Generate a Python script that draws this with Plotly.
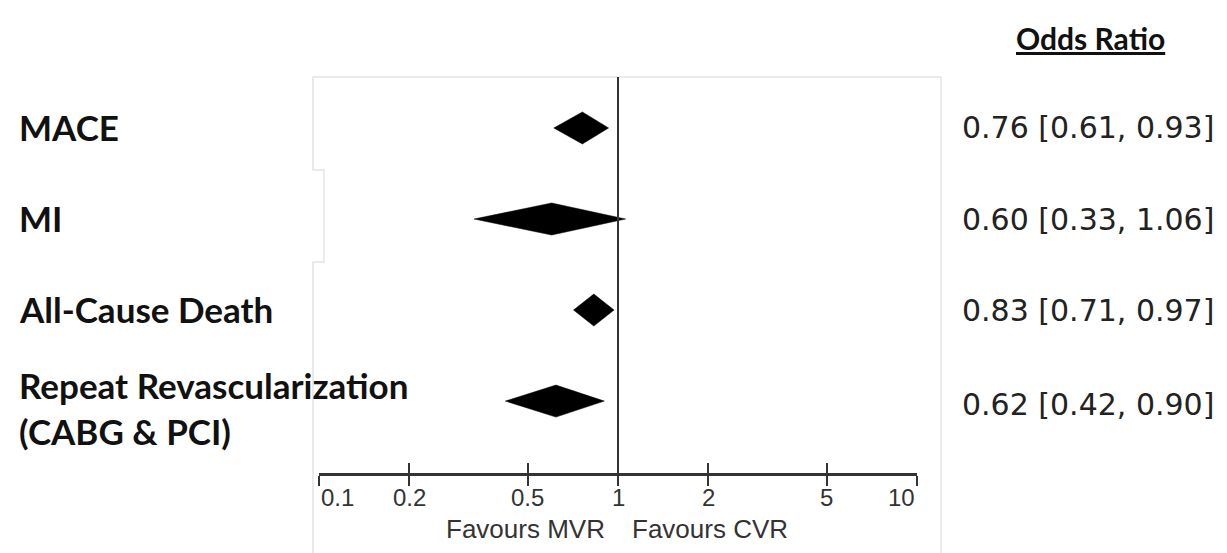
import math
import plotly.graph_objects as go

# Outcomes, odds ratios and 95% confidence intervals
outcomes = ["MACE", "MI", "All-Cause Death", "Repeat Revascularization<br>(CABG & PCI)"]
odds_ratio = [0.76, 0.60, 0.83, 0.62]
ci_low = [0.61, 0.33, 0.71, 0.42]
ci_high = [0.93, 1.06, 0.97, 0.90]

tick_vals = [0.1, 0.2, 0.5, 1, 2, 5, 10]
tick_text = ["0.1", "0.2", "0.5", "1", "2", "5", "10"]

W, H = 1227, 553
L, R, T, B = 319, 310, 77, 80
PW, PH = W - L - R, H - T - B


def px(x):
    return (x - L) / PW


def py(y):
    return (H - B - y) / PH


label_font = dict(family="Lato, 'Open Sans', sans-serif", size=35, color="#111")
value_font = dict(family="'DejaVu Sans', sans-serif", size=30, color="#222")
axis_font = dict(family="'Liberation Sans', Arial, sans-serif", size=24, color="#333")
favour_font = dict(family="'Liberation Sans', Arial, sans-serif", size=26, color="#333")

fig = go.Figure()

half_h = 0.176
for i, (o, lo, hi) in enumerate(zip(odds_ratio, ci_low, ci_high)):
    fig.add_trace(go.Scatter(
        x=[lo, o, hi, o, lo],
        y=[i, i - half_h, i, i + half_h, i],
        mode="lines", fill="toself", fillcolor="#000",
        line=dict(color="#000", width=0.5),
        hoverinfo="skip", showlegend=False,
    ))

# companion axis carrying the upward half of the tick marks
fig.add_trace(go.Scatter(x=[1], y=[0], xaxis="x2", mode="markers",
                         marker=dict(opacity=0), showlegend=False, hoverinfo="skip"))

annotations = []
for i, name in enumerate(outcomes):
    annotations.append(dict(
        x=px(17), xref="paper", xanchor="left",
        y=i, yref="y", yanchor="middle",
        yshift=-7 if "<br>" in name else 1,
        text="<b>%s</b>" % name, showarrow=False, align="left", font=label_font,
    ))
    annotations.append(dict(
        x=px(960), xref="paper", xanchor="left",
        y=i, yref="y", yanchor="middle", yshift=-3 if i == 3 else 0,
        text="%.2f [%.2f, %.2f]" % (odds_ratio[i], ci_low[i], ci_high[i]),
        showarrow=False, font=value_font,
    ))

# tick labels: the two end labels sit inside the axis span
for j, (v, t) in enumerate(zip(tick_vals, tick_text)):
    anchor = "left" if j == 0 else ("right" if j == len(tick_vals) - 1 else "center")
    annotations.append(dict(
        x=math.log10(v), xref="x", xanchor=anchor, y=0, yref="paper", yanchor="middle",
        yshift=-24, text=t, showarrow=False, font=axis_font,
    ))

annotations.append(dict(
    x=px(1090), xref="paper", xanchor="center", y=py(38), yref="paper", yanchor="middle",
    text="<b><u>Odds Ratio</u></b>", showarrow=False,
    font=dict(family="Lato, 'Open Sans', sans-serif", size=30, color="#111"),
))
annotations.append(dict(
    x=0, xref="x", xanchor="right", xshift=-11, y=0, yref="paper", yanchor="middle",
    yshift=-56, text="Favours MVR", showarrow=False, font=favour_font,
))
annotations.append(dict(
    x=0, xref="x", xanchor="left", xshift=12, y=0, yref="paper", yanchor="middle",
    yshift=-56, text="Favours CVR", showarrow=False, font=favour_font,
))

# faint frame around the plotting panel
frame_color = "#e4e4e4"
frame_path = ("M %f %f L %f %f L %f %f L %f %f L %f %f L %f %f L %f %f" % (
    px(313), py(553), px(313), py(262), px(324), py(262), px(324), py(170),
    px(313), py(170), px(313), py(77), px(941), py(77)))
shapes = [
    dict(type="path", xref="paper", yref="paper", path=frame_path,
         line=dict(color=frame_color, width=1.5)),
    dict(type="line", xref="paper", yref="paper", x0=px(941), x1=px(941),
         y0=py(77), y1=py(553), line=dict(color=frame_color, width=1.5)),
    # line of no effect
    dict(type="line", xref="x", yref="paper", x0=1, x1=1, y0=0, y1=1,
         line=dict(color="#333", width=2)),
]

axis_common = dict(type="log", range=[-1, 1], tickvals=tick_vals, showgrid=False,
                   zeroline=False, ticklen=10, tickwidth=2, tickcolor="#333",
                   showticklabels=False)

fig.update_layout(
    width=W, height=H, autosize=False,
    margin=dict(l=L, r=R, t=T, b=B, pad=0),
    paper_bgcolor="white", plot_bgcolor="white",
    xaxis=dict(**axis_common, ticks="outside",
               showline=True, linecolor="#333", linewidth=2.5,
               anchor="y", fixedrange=True),
    xaxis2=dict(**axis_common, ticks="inside",
                overlaying="x", anchor="y", side="bottom", showline=False),
    yaxis=dict(range=[3.79, -0.56], visible=False, fixedrange=True),
    annotations=annotations, shapes=shapes, showlegend=False,
)

fig.write_html("out.html")
